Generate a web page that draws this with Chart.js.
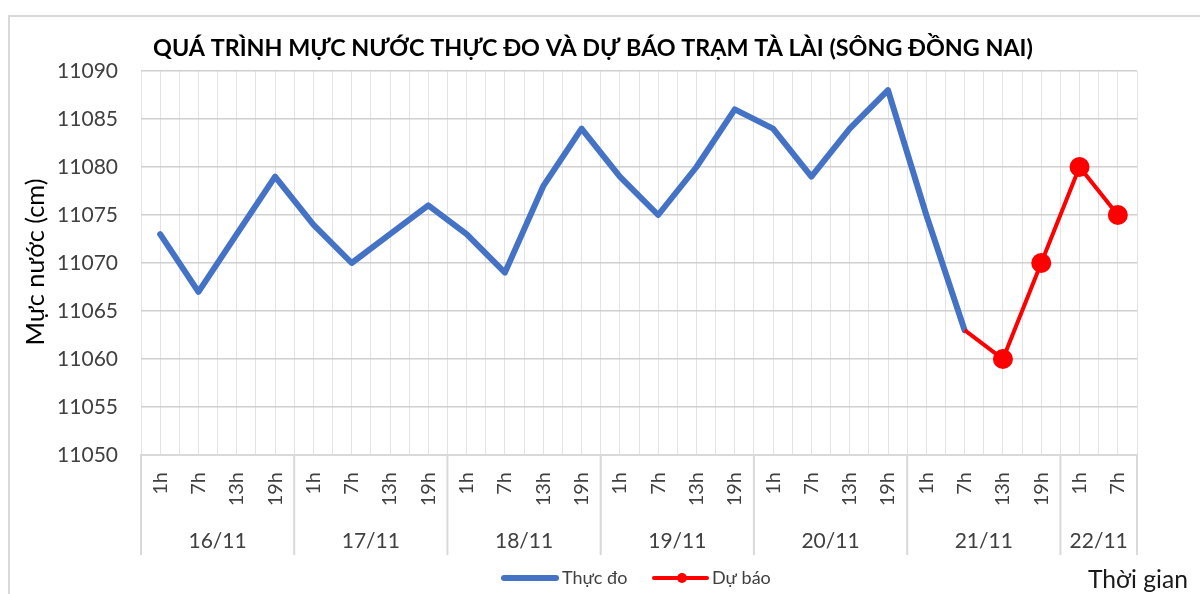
<!DOCTYPE html>
<html>
<head>
<meta charset="utf-8">
<script src="https://cdn.jsdelivr.net/npm/chart.js@4.4.0/dist/chart.umd.min.js"></script>
<style>
html,body{margin:0;padding:0;background:#fff;}
#wrap{width:1200px;height:594px;position:relative;}
</style>
</head>
<body>
<div id="wrap"><canvas id="c" width="1200" height="594"></canvas></div>
<script>
// ---- data ----
const hourLabels = ['1h','7h','13h','19h','1h','7h','13h','19h','1h','7h','13h','19h','1h','7h','13h','19h','1h','7h','13h','19h','1h','7h','13h','19h','1h','7h'];
const dateLabels = ['16/11','17/11','18/11','19/11','20/11','21/11','22/11'];
const dateCounts = [4,4,4,4,4,4,2];
const thucDo = [11073,11067,11073,11079,11074,11070,11073,11076,11073,11069,11078,11084,11079,11075,11080,11086,11084,11079,11084,11088,11075,11063];
const duBaoStart = 21;
const duBao = [11063,11060,11070,11080,11075];
const yTicks = {min:11050, max:11090, step:5};
const titleText = 'QUÁ TRÌNH MỰC NƯỚC THỰC ĐO VÀ DỰ BÁO TRẠM TÀ LÀI (SÔNG ĐỒNG NAI)';
const yTitle = 'Mực nước (cm)';
const xTitle = 'Thời gian';
const seriesNames = ['Thực đo','Dự báo'];

// ---- build ----
const s1 = hourLabels.map((_,i)=> i < thucDo.length ? thucDo[i] : null);
const s2 = hourLabels.map((_,i)=> (i>=duBaoStart && i-duBaoStart<duBao.length) ? duBao[i-duBaoStart] : null);

const FONT = 'Lato, "Open Sans", sans-serif';
const BLUE = '#4472C4', RED = '#FF0000';

function fitFont(ctx, text, weight, width){
  ctx.font = weight + ' 20px ' + FONT;
  const w = ctx.measureText(text).width;
  return weight + ' ' + (20*width/w).toFixed(2) + 'px ' + FONT;
}

const decor = {
  id:'decor',
  beforeDraw(chart){
    const ctx = chart.ctx;
    ctx.save();
    ctx.fillStyle='#fff';
    ctx.fillRect(0,0,chart.width,chart.height);
    ctx.strokeStyle='#d9d9d9';
    ctx.lineWidth=2;
    ctx.beginPath();
    ctx.moveTo(9,600); ctx.lineTo(9,16); ctx.lineTo(1205,16);
    ctx.stroke();
    ctx.restore();
  },
  afterDraw(chart){
    const ctx = chart.ctx, xs = chart.scales.x, ca = chart.chartArea;
    const half = (xs.getPixelForValue(1)-xs.getPixelForValue(0))/2;
    ctx.save();
    // date group separators + labels
    ctx.strokeStyle='#d9d9d9';
    ctx.lineWidth=2;
    let idx=0;
    const bounds=[xs.getPixelForValue(0)-half];
    dateCounts.forEach(c=>{ idx+=c; bounds.push(xs.getPixelForValue(idx-1)+half); });
    bounds.forEach(b=>{
      ctx.beginPath(); ctx.moveTo(b,ca.bottom); ctx.lineTo(b,555); ctx.stroke();
    });
    ctx.fillStyle='#404040';
    ctx.font='21px '+FONT;
    ctx.textAlign='center'; ctx.textBaseline='middle';
    dateLabels.forEach((d,i)=>{
      ctx.fillText(d,(bounds[i]+bounds[i+1])/2,541);
    });
    // title
    ctx.fillStyle='#000';
    ctx.font=fitFont(ctx,titleText,'bold',880);
    ctx.textAlign='center';
    ctx.fillText(titleText,593,48);
    // y title
    ctx.save();
    ctx.translate(36,262);
    ctx.rotate(-Math.PI/2);
    ctx.font=fitFont(ctx,yTitle,'normal',167);
    ctx.fillText(yTitle,0,0);
    ctx.restore();
    // x title
    ctx.font=fitFont(ctx,xTitle,'normal',100);
    ctx.textAlign='left';
    ctx.fillStyle='#1a1a1a';
    ctx.fillText(xTitle,1088,580);
    // legend
    ctx.lineCap='round';
    ctx.strokeStyle=BLUE; ctx.lineWidth=6;
    ctx.beginPath(); ctx.moveTo(504,578); ctx.lineTo(556,578); ctx.stroke();
    ctx.strokeStyle=RED; ctx.lineWidth=4;
    ctx.beginPath(); ctx.moveTo(654,578); ctx.lineTo(707,578); ctx.stroke();
    ctx.fillStyle=RED;
    ctx.beginPath(); ctx.arc(682,578,5,0,Math.PI*2); ctx.fill();
    ctx.fillStyle='#404040';
    ctx.font='18px '+FONT;
    ctx.textAlign='left';
    ctx.fillText(seriesNames[0],562,578);
    ctx.fillText(seriesNames[1],712,578);
    ctx.restore();
  }
};

new Chart(document.getElementById('c'),{
  type:'line',
  data:{
    labels:hourLabels,
    datasets:[
      {label:seriesNames[0],data:s1,borderColor:BLUE,backgroundColor:BLUE,borderWidth:6,pointRadius:0,pointHoverRadius:0,tension:0,order:1,borderJoinStyle:'round',borderCapStyle:'round'},
      {label:seriesNames[1],data:s2,borderColor:RED,backgroundColor:RED,borderWidth:4,
        pointRadius:s2.map((v,i)=> i===duBaoStart ? 0 : 10),pointBackgroundColor:RED,pointBorderColor:RED,pointBorderWidth:0,tension:0,order:0}
    ]
  },
  options:{
    responsive:false,
    animation:false,
    layout:{padding:{top:71,right:63,bottom:0,left:0}},
    plugins:{legend:{display:false},title:{display:false},tooltip:{enabled:false}},
    scales:{
      x:{
        type:'category',position:'bottom',offset:true,
        grid:{offset:false,color:'#e3e3e3',lineWidth:1,drawTicks:false},
        border:{display:true,color:'#d9d9d9',width:2},
        ticks:{autoSkip:false,minRotation:90,maxRotation:90,padding:17,color:'#404040',font:{family:FONT,size:20}},
        afterFit(s){s.height=139;}
      },
      xb:{
        type:'category',position:'top',offset:true,labels:hourLabels,
        grid:{offset:true,color:'#e3e3e3',lineWidth:1,drawTicks:false},
        border:{display:false},
        ticks:{display:false},
        afterFit(s){s.height=0;}
      },
      y:{
        min:yTicks.min,max:yTicks.max,
        grid:{color:'#d0d0d0',lineWidth:1.5,drawTicks:false},
        border:{display:false},
        ticks:{stepSize:yTicks.step,padding:23,color:'#404040',font:{family:FONT,size:21},callback:(v)=>String(v)},
        afterFit(s){s.width=141;}
      }
    }
  },
  plugins:[decor]
});
</script>
</body>
</html>
